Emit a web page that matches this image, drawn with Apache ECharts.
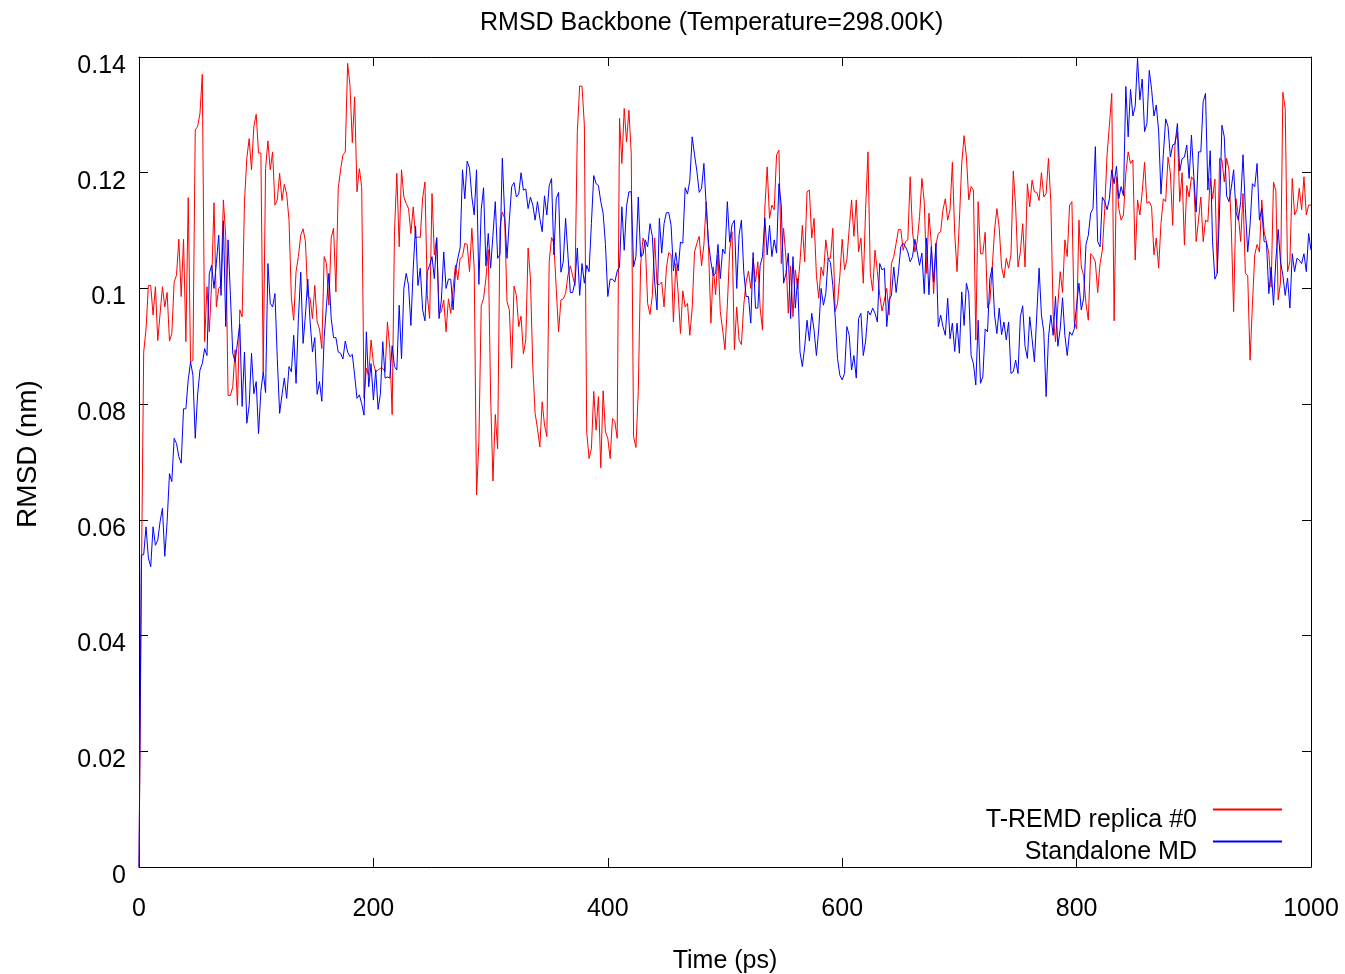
<!DOCTYPE html>
<html>
<head>
<meta charset="utf-8">
<script src="https://cdn.jsdelivr.net/npm/echarts@6/dist/echarts.min.js"></script>
<style>
  html, body { margin: 0; padding: 0; background: #fff; }
  #chart { width: 1345px; height: 974px; }
</style>
</head>
<body>
<div id="chart"></div>
<script>
// RMSD of the backbone, [time (ps), rmsd (nm)]
var tremdReplica0 = [
  [0,0],[2,0.049],[4,0.089],[6,0.093],[8,0.1005],[10,0.1005],[12,0.0954],[14,0.1003],[16,0.091],[20,0.1003],
  [22,0.0968],[24,0.0993],[26,0.0909],[28,0.0922],[30,0.1011],[32,0.1023],[34,0.1085],[36,0.0986],[38,0.1085],[40,0.0908],
  [42,0.1157],[44,0.0873],[46,0.0876],[48,0.1274],[50,0.128],[52,0.1302],[54,0.137],[56,0.0908],[58,0.1003],[60,0.0925],
  [62,0.1011],[64,0.1148],[66,0.0968],[68,0.1],[70,0.1005],[72,0.1153],[74,0.109],[76,0.0815],[78,0.0815],[80,0.083],
  [82,0.0894],[84,0.0798],[86,0.0963],[88,0.0951],[90,0.115],[92,0.1225],[94,0.1259],[96,0.1205],[98,0.128],[100,0.1301],
  [102,0.1234],[104,0.1234],[106,0.0856],[108,0.1207],[110,0.1255],[112,0.1205],[114,0.1236],[116,0.1144],[118,0.1153],[120,0.1199],
  [122,0.1152],[124,0.118],[126,0.1163],[128,0.1118],[130,0.0983],[132,0.0945],[134,0.1029],[136,0.1055],[138,0.1092],[140,0.1103],
  [142,0.1081],[144,0.0986],[146,0.0983],[148,0.0948],[150,0.1005],[152,0.0942],[154,0.093],[156,0.0896],[158,0.1055],[160,0.1043],
  [162,0.0971],[164,0.1088],[166,0.1104],[168,0.0994],[170,0.1173],[172,0.1205],[174,0.1231],[176,0.1236],[178,0.1389],[180,0.1351],
  [182,0.1252],[184,0.1331],[186,0.1167],[188,0.1207],[190,0.1176],[192,0.081],[194,0.0862],[196,0.085],[198,0.0911],[200,0.087],
  [202,0.0856],[204,0.0859],[206,0.0862],[208,0.0862],[210,0.0856],[212,0.0942],[214,0.0896],[216,0.0782],[218,0.1098],[220,0.1199],
  [222,0.1072],[224,0.1205],[226,0.1158],[228,0.1147],[230,0.1138],[232,0.1095],[234,0.1141],[236,0.1087],[238,0.1089],[240,0.1088],
  [242,0.1156],[244,0.1184],[246,0.0988],[248,0.0948],[250,0.1164],[252,0.1058],[254,0.1088],[256,0.0957],[258,0.096],[260,0.098],
  [262,0.0925],[264,0.0982],[266,0.0957],[268,0.1],[270,0.104],[272,0.1015],[274,0.1052],[276,0.1055],[278,0.1078],[280,0.1076],
  [282,0.1029],[284,0.1104],[286,0.1035],[288,0.0643],[290,0.0735],[292,0.097],[294,0.0983],[296,0.1017],[298,0.1067],[300,0.0816],
  [302,0.0667],[304,0.0782],[306,0.0723],[308,0.1104],[310,0.1132],[312,0.1121],[314,0.0977],[316,0.0963],[318,0.0862],[320,0.1004],
  [322,0.0988],[324,0.0934],[326,0.0952],[328,0.0887],[330,0.0911],[332,0.107],[334,0.1017],[336,0.0865],[338,0.0784],[340,0.0758],
  [342,0.0726],[344,0.0804],[346,0.0764],[348,0.0744],[350,0.1046],[352,0.1088],[354,0.1078],[356,0.1],[358,0.0925],[360,0.098],
  [362,0.0982],[364,0.0991],[366,0.1023],[368,0.1039],[370,0.1022],[372,0.1005],[374,0.1271],[376,0.135],[378,0.1349],[380,0.1282],
  [382,0.0752],[384,0.0706],[386,0.0723],[388,0.0822],[390,0.0755],[392,0.0813],[394,0.069],[396,0.0823],[398,0.0752],[400,0.0741],
  [402,0.0706],[404,0.0775],[406,0.077],[408,0.0741],[410,0.1294],[412,0.1216],[414,0.1311],[416,0.1253],[418,0.1308],[420,0.1233],
  [422,0.0744],[424,0.0725],[426,0.0822],[428,0.104],[430,0.1087],[432,0.1076],[434,0.0974],[436,0.0955],[438,0.0988],[440,0.1087],
  [442,0.1007],[444,0.1007],[446,0.1011],[448,0.0968],[450,0.1035],[452,0.1062],[454,0.1058],[456,0.0942],[458,0.1043],[460,0.0993],
  [462,0.0922],[464,0.0996],[466,0.0968],[468,0.0974],[470,0.0919],[472,0.0966],[474,0.1063],[476,0.1078],[478,0.109],[480,0.1039],
  [482,0.1076],[484,0.115],[486,0.1066],[488,0.094],[490,0.1037],[492,0.0989],[494,0.1058],[496,0.096],[498,0.0928],[500,0.0894],
  [502,0.0971],[504,0.1066],[506,0.1098],[508,0.0894],[510,0.0968],[512,0.0911],[514,0.0903],[516,0.0971],[518,0.1011],[520,0.103],
  [522,0.1],[524,0.1052],[526,0.1011],[528,0.1046],[530,0.0966],[532,0.0928],[534,0.1139],[536,0.121],[538,0.1121],[540,0.1144],
  [542,0.1136],[544,0.1231],[546,0.1239],[548,0.1043],[550,0.1104],[552,0.1052],[554,0.0957],[556,0.1039],[558,0.0951],[560,0.1032],
  [562,0.1],[564,0.1046],[566,0.1109],[568,0.1046],[570,0.1167],[572,0.117],[574,0.1087],[576,0.1121],[578,0.1023],[580,0.0983],
  [582,0.1037],[584,0.1022],[586,0.1084],[588,0.1052],[590,0.1052],[592,0.1104],[594,0.096],[596,0.0974],[598,0.1022],[600,0.1085],
  [602,0.1032],[604,0.105],[606,0.1104],[608,0.1153],[610,0.109],[612,0.1153],[614,0.1063],[616,0.1087],[618,0.1009],[620,0.1138],
  [622,0.1236],[624,0.1026],[626,0.0996],[628,0.1066],[630,0.1029],[632,0.0988],[634,0.0961],[636,0.098],[638,0.1],[640,0.0954],
  [642,0.1043],[644,0.1055],[646,0.1078],[648,0.1102],[650,0.1102],[652,0.1066],[654,0.1081],[656,0.1084],[658,0.1193],[660,0.1098],
  [662,0.1063],[664,0.1081],[666,0.1124],[668,0.119],[670,0.115],[672,0.1026],[674,0.113],[676,0.1078],[678,0.0991],[680,0.1076],
  [682,0.1095],[684,0.1098],[686,0.1136],[688,0.1155],[690,0.1118],[692,0.1136],[694,0.1218],[696,0.1095],[698,0.1029],[700,0.1118],
  [702,0.1216],[704,0.1264],[706,0.1227],[708,0.1153],[710,0.1176],[712,0.117],[714,0.0911],[716,0.115],[718,0.106],[720,0.106],
  [722,0.1097],[724,0.0966],[726,0.0977],[728,0.1035],[730,0.1101],[732,0.1138],[734,0.1104],[736,0.1037],[738,0.1018],[740,0.1052],
  [742,0.1035],[744,0.1058],[746,0.1203],[748,0.1141],[750,0.1037],[752,0.1063],[754,0.1112],[756,0.1037],[758,0.1181],[760,0.1141],
  [762,0.1187],[764,0.1167],[766,0.1166],[768,0.1152],[770,0.12],[772,0.1158],[774,0.1164],[776,0.1225],[778,0.115],[780,0.0954],
  [782,0.0908],[784,0.0971],[786,0.1029],[788,0.0993],[790,0.1084],[792,0.1055],[794,0.1144],[796,0.115],[798,0.0942],[800,0.093],
  [802,0.1118],[804,0.1037],[806,0.1022],[808,0.0974],[810,0.0945],[812,0.106],[814,0.1055],[816,0.1046],[818,0.0993],[820,0.1043],
  [822,0.1066],[824,0.1138],[826,0.1231],[828,0.1282],[830,0.1337],[832,0.0944],[834,0.1193],[836,0.1138],[838,0.1118],[840,0.1127],
  [842,0.1199],[844,0.1236],[846,0.1216],[848,0.1222],[850,0.1049],[852,0.1153],[854,0.1127],[856,0.1167],[858,0.1218],[860,0.1147],
  [862,0.115],[864,0.1141],[866,0.1058],[868,0.1087],[870,0.1035],[872,0.1112],[874,0.1155],[876,0.115],[878,0.1227],[880,0.12],
  [882,0.1109],[884,0.1253],[886,0.127],[888,0.115],[890,0.12],[892,0.1075],[894,0.1178],[896,0.1158],[898,0.1193],[900,0.1187],
  [902,0.1081],[904,0.1118],[906,0.1158],[908,0.1081],[910,0.1118],[912,0.1115],[914,0.119],[916,0.1155],[918,0.1189],[920,0.1026],
  [922,0.1225],[924,0.1222],[926,0.1184],[928,0.1225],[930,0.1205],[932,0.1104],[934,0.096],[936,0.1155],[938,0.1127],[940,0.1081],
  [942,0.1164],[944,0.1026],[946,0.1022],[948,0.0876],[950,0.0971],[952,0.1058],[954,0.1076],[956,0.1063],[958,0.1153],[960,0.1098],
  [962,0.1081],[964,0.1061],[966,0.1002],[968,0.1184],[970,0.1169],[972,0.098],[974,0.1011],[976,0.1339],[978,0.1311],[980,0.1029],
  [982,0.1046],[984,0.119],[986,0.1127],[988,0.1136],[990,0.1173],[992,0.1136],[994,0.1193],[996,0.1127],[998,0.1144],[1000,0.1144]
];

var standaloneMd = [
  [0,0],[2,0.0539],[4,0.054],[6,0.0588],[8,0.0534],[10,0.0519],[12,0.0588],[14,0.0556],[16,0.0565],[18,0.0597],
  [20,0.062],[22,0.0537],[24,0.0597],[26,0.068],[28,0.0666],[30,0.0741],[32,0.0732],[34,0.0709],[36,0.0698],[38,0.0792],
  [40,0.0792],[42,0.0842],[44,0.0873],[46,0.085],[48,0.0741],[50,0.0816],[52,0.0859],[54,0.087],[56,0.0896],[58,0.0884],
  [60,0.1026],[62,0.104],[64,0.1],[66,0.1043],[68,0.1092],[70,0.0988],[72,0.1117],[74,0.0934],[76,0.1084],[78,0.0988],
  [80,0.0888],[82,0.0873],[86,0.0938],[88,0.0796],[90,0.089],[92,0.0767],[94,0.0798],[96,0.0888],[98,0.0818],[100,0.0839],
  [102,0.0749],[104,0.0822],[106,0.0856],[108,0.082],[110,0.1043],[112,0.0974],[114,0.0968],[116,0.0991],[118,0.0879],[120,0.0784],
  [122,0.0816],[124,0.0845],[126,0.081],[128,0.0865],[130,0.0856],[132,0.0919],[134,0.0836],[136,0.0948],[138,0.1028],[140,0.0905],
  [142,0.0954],[144,0.1016],[146,0.0942],[148,0.089],[150,0.0915],[152,0.0817],[154,0.0839],[156,0.0805],[158,0.0915],[160,0.0971],
  [162,0.1026],[164,0.0948],[166,0.0915],[168,0.0915],[170,0.089],[172,0.0888],[174,0.0878],[176,0.0909],[178,0.089],[180,0.0882],
  [182,0.0886],[184,0.085],[186,0.081],[188,0.0816],[190,0.0801],[192,0.0781],[194,0.0925],[196,0.083],[198,0.087],[200,0.0807],
  [202,0.0859],[204,0.0791],[206,0.0818],[208,0.0908],[210,0.0845],[212,0.0847],[214,0.0845],[216,0.0901],[218,0.0865],[220,0.0859],
  [222,0.0971],[224,0.0878],[226,0.1],[228,0.1026],[230,0.1005],[232,0.0936],[234,0.1035],[236,0.1108],[238,0.1005],[240,0.1035],
  [242,0.0963],[244,0.0944],[246,0.1029],[248,0.104],[250,0.1055],[252,0.1017],[254,0.1087],[256,0.0948],[258,0.098],[260,0.1063],
  [262,0.1],[264,0.1016],[266,0.1016],[268,0.0963],[270,0.1029],[272,0.1052],[274,0.107],[276,0.1205],[278,0.1155],[280,0.122],
  [282,0.1208],[284,0.1158],[286,0.1127],[288,0.1205],[290,0.1007],[292,0.1136],[294,0.1174],[296,0.1039],[298,0.1095],[300,0.1035],
  [302,0.1092],[304,0.115],[306,0.1052],[308,0.1059],[310,0.1225],[312,0.1127],[314,0.1052],[316,0.1118],[318,0.1176],[320,0.1183],
  [322,0.1158],[324,0.1163],[326,0.12],[328,0.117],[330,0.1172],[332,0.1138],[334,0.1158],[336,0.1144],[338,0.1118],[340,0.115],
  [342,0.1121],[344,0.1098],[346,0.116],[348,0.1127],[350,0.1178],[352,0.119],[354,0.1058],[356,0.1155],[358,0.1166],[360,0.1028],
  [362,0.1046],[364,0.1121],[366,0.1058],[368,0.0993],[370,0.0993],[372,0.1011],[374,0.107],[376,0.0988],[378,0.1043],[380,0.1009],
  [382,0.104],[384,0.1029],[386,0.1112],[388,0.1195],[390,0.1181],[392,0.1178],[394,0.115],[396,0.113],[398,0.1076],[400,0.0986],
  [402,0.1016],[404,0.1016],[406,0.1011],[408,0.103],[410,0.1037],[412,0.1141],[414,0.1066],[416,0.1142],[418,0.1167],[420,0.1167],
  [422,0.1037],[424,0.1055],[426,0.1158],[428,0.1055],[430,0.1058],[432,0.1084],[434,0.1072],[436,0.1112],[438,0.109],[440,0.1011],
  [442,0.0963],[444,0.1121],[446,0.1061],[448,0.1112],[450,0.1131],[452,0.1131],[454,0.1109],[456,0.103],[458,0.1062],[460,0.103],
  [462,0.108],[464,0.1078],[466,0.1174],[468,0.1163],[470,0.1187],[472,0.1262],[474,0.1231],[476,0.1203],[478,0.1166],[480,0.1173],
  [482,0.1216],[484,0.1141],[486,0.1078],[488,0.1046],[490,0.1022],[492,0.1026],[494,0.1076],[496,0.1017],[498,0.1068],[500,0.106],
  [502,0.115],[504,0.108],[506,0.111],[508,0.1118],[510,0.1],[512,0.1092],[514,0.1118],[516,0.1029],[518,0.0986],[520,0.0986],
  [522,0.094],[524,0.1062],[526,0.0966],[528,0.0966],[530,0.104],[532,0.1055],[534,0.1122],[536,0.1058],[538,0.1109],[540,0.1055],
  [542,0.1084],[544,0.1061],[546,0.1181],[548,0.1144],[550,0.1009],[552,0.1026],[554,0.1061],[556,0.0948],[558,0.1055],[560,0.0966],
  [562,0.1017],[564,0.089],[566,0.0865],[568,0.0899],[570,0.0945],[572,0.0909],[574,0.0957],[576,0.0928],[578,0.0884],[580,0.093],
  [582,0.1],[584,0.0971],[586,0.0991],[588,0.1052],[590,0.1045],[592,0.1005],[594,0.0951],[596,0.0879],[598,0.085],[600,0.0842],
  [602,0.0853],[604,0.0934],[606,0.0919],[608,0.0859],[610,0.0884],[612,0.0845],[614,0.0948],[616,0.0957],[618,0.0884],[620,0.0909],
  [622,0.0961],[624,0.0954],[626,0.0966],[628,0.0957],[630,0.0942],[632,0.1043],[634,0.1032],[636,0.1035],[638,0.0934],[640,0.098],
  [642,0.0988],[644,0.1037],[646,0.0993],[648,0.1029],[650,0.1072],[652,0.1078],[654,0.1072],[656,0.1063],[658,0.1046],[660,0.1055],
  [662,0.1085],[664,0.1063],[666,0.104],[668,0.1061],[670,0.0991],[672,0.1087],[674,0.0989],[676,0.1072],[678,0.1011],[680,0.1078],
  [682,0.0934],[684,0.0954],[686,0.0934],[688,0.0919],[690,0.0983],[692,0.0913],[694,0.094],[696,0.0891],[698,0.094],[700,0.0888],
  [702,0.0994],[704,0.0936],[706,0.1009],[708,0.0991],[710,0.0884],[712,0.087],[714,0.0833],[716,0.0945],[718,0.0836],[720,0.0847],
  [722,0.093],[724,0.0925],[726,0.1017],[728,0.1037],[730,0.0954],[732,0.0922],[734,0.0966],[736,0.092],[738,0.0942],[740,0.0911],
  [742,0.0942],[744,0.0853],[746,0.0856],[748,0.0876],[750,0.0853],[752,0.0951],[754,0.097],[756,0.09],[758,0.0879],[760,0.0951],
  [762,0.0913],[764,0.0873],[766,0.0954],[768,0.1035],[770,0.0954],[772,0.0925],[774,0.0813],[776,0.0915],[778,0.0954],[780,0.0919],
  [782,0.0986],[784,0.09],[786,0.093],[788,0.0984],[790,0.0919],[792,0.0884],[794,0.0925],[796,0.0919],[798,0.093],[800,0.0971],
  [802,0.1009],[804,0.0963],[806,0.0983],[808,0.1076],[810,0.1092],[812,0.113],[814,0.1138],[816,0.1245],[818,0.1081],[820,0.1072],
  [822,0.1158],[824,0.115],[826,0.1136],[828,0.1155],[830,0.1205],[832,0.1181],[834,0.1211],[836,0.1155],[838,0.1176],[840,0.116],
  [842,0.1349],[844,0.1262],[846,0.1344],[848,0.1298],[850,0.1315],[852,0.1398],[854,0.1326],[856,0.1362],[858,0.1271],[860,0.1285],
  [862,0.1377],[864,0.1344],[866,0.1298],[868,0.1317],[870,0.1272],[872,0.1163],[874,0.1231],[876,0.1293],[878,0.128],[880,0.1227],
  [882,0.1248],[884,0.125],[886,0.1285],[888,0.1203],[890,0.1224],[892,0.1227],[894,0.1248],[896,0.119],[898,0.1265],[900,0.1193],
  [902,0.1132],[904,0.1236],[906,0.1236],[908,0.1323],[910,0.1337],[912,0.117],[914,0.1238],[916,0.1081],[918,0.1016],[920,0.1026],
  [922,0.1136],[924,0.1282],[926,0.1262],[928,0.116],[930,0.115],[932,0.1174],[934,0.1205],[936,0.1132],[938,0.1118],[940,0.115],
  [942,0.1231],[944,0.1138],[946,0.1063],[948,0.1109],[950,0.1181],[952,0.1176],[954,0.1216],[956,0.1118],[958,0.1138],[960,0.1081],
  [962,0.108],[964,0.0991],[966,0.1037],[968,0.0971],[970,0.1049],[972,0.1102],[974,0.1046],[976,0.1023],[978,0.0988],[980,0.1018],
  [982,0.0966],[984,0.106],[986,0.1029],[988,0.1052],[990,0.1049],[992,0.1043],[994,0.106],[996,0.1029],[998,0.1095],[1000,0.1066]
];

var seriesNames = ['T-REMD replica #0', 'Standalone MD'];
var seriesColors = ['#ff0000', '#0000ff'];
var timeTicks = [0, 1000, 200];     // min, max, step
var rmsdTicks = [0, 0.14, 0.02];

var font = '"Liberation Sans", Arial, sans-serif';
var fs = 25;

var chart = echarts.init(document.getElementById('chart'), null, { renderer: 'canvas' });

// gnuplot style box: inward ticks on all four sides, axis lines not pinned to zero
function frameAxis(extra) {
    var base = {
        type: 'value',
        axisLine: { show: true, onZero: false, lineStyle: { color: '#000', width: 1 } },
        axisTick: { show: true, inside: true, length: 9, lineStyle: { color: '#000', width: 1 } },
        splitLine: { show: false },
        axisLabel: { show: false }
    };
    return Object.assign(base, extra);
}

// legend text sits a little below its line sample, like gnuplot's key
function keyLegend(i, top) {
    return {
        data: [seriesNames[i]],
        orient: 'vertical', align: 'right',
        right: 63, top: top, padding: 0,
        icon: 'rect', itemWidth: 69, itemHeight: 2,
        itemStyle: { color: seriesColors[i], borderWidth: 0 },
        formatter: '{k|{name}}',
        textStyle: {
            fontFamily: font, fontSize: fs, color: '#000',
            rich: { k: { fontFamily: font, fontSize: fs, color: '#000', padding: [22, 11, 0, 0] } }
        }
    };
}

var option = {
    animation: false,
    backgroundColor: '#fff',
    title: {
        text: 'RMSD Backbone (Temperature=298.00K)',
        left: 475,
        top: 6,
        textStyle: { fontFamily: font, fontSize: fs, fontWeight: 'normal', color: '#000' }
    },
    legend: [
        keyLegend(0, 808),
        keyLegend(1, 840)
    ],
    // v6 would otherwise shrink the grid to keep the axis name inside
    grid: { left: 139, top: 57, width: 1172, height: 810, containLabel: false, outerBoundsMode: 'none' },
    xAxis: [
        frameAxis({
            position: 'bottom',
            min: timeTicks[0], max: timeTicks[1], interval: timeTicks[2],
            name: 'Time (ps)', nameLocation: 'middle', nameGap: 82,
            nameTextStyle: { fontFamily: font, fontSize: fs, color: '#000' },
            axisLabel: {
                show: true, margin: 30, fontFamily: font, fontSize: fs, color: '#000',
                formatter: function (v) { return String(v); }
            }
        }),
        frameAxis({
            position: 'top',
            min: timeTicks[0], max: timeTicks[1], interval: timeTicks[2]
        })
    ],
    yAxis: [
        frameAxis({
            position: 'left',
            min: rmsdTicks[0], max: rmsdTicks[1], interval: rmsdTicks[2],
            name: 'RMSD (nm)', nameLocation: 'middle', nameGap: 97,
            nameTextStyle: { fontFamily: font, fontSize: 28, color: '#000', padding: [0, 0, 0, 16] },
            axisLabel: {
                show: true, margin: 13, fontFamily: font, fontSize: fs, color: '#000',
                verticalAlign: 'top', lineHeight: 18,
                formatter: function (v) { return String(+v.toFixed(2)); }
            }
        }),
        frameAxis({
            position: 'right',
            min: rmsdTicks[0], max: rmsdTicks[1], interval: rmsdTicks[2]
        })
    ],
    series: [
        {
            name: seriesNames[0],
            type: 'line',
            data: tremdReplica0,
            showSymbol: false,
            symbol: 'none',
            color: seriesColors[0],
            lineStyle: { color: seriesColors[0], width: 1 },
            xAxisIndex: 0, yAxisIndex: 0
        },
        {
            name: seriesNames[1],
            type: 'line',
            data: standaloneMd,
            showSymbol: false,
            symbol: 'none',
            color: seriesColors[1],
            lineStyle: { color: seriesColors[1], width: 1 },
            xAxisIndex: 0, yAxisIndex: 0
        }
    ]
};

chart.setOption(option);
</script>
</body>
</html>
